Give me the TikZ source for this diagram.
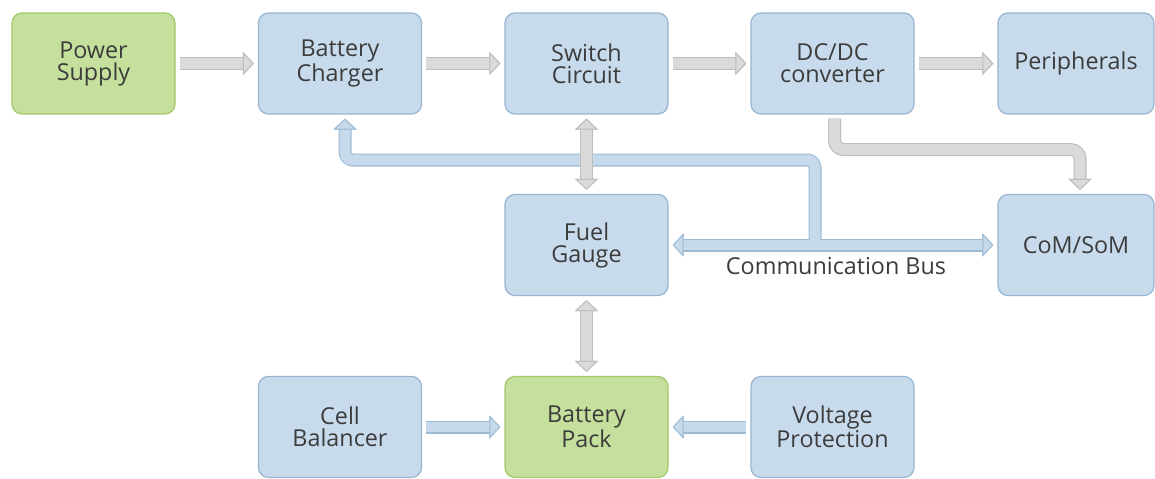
\documentclass[tikz,border=0pt]{standalone}
\usepackage{fontspec}
\setmainfont{Open Sans}
\usetikzlibrary{arrows.meta,calc}
\definecolor{boxblue}{HTML}{C8DBEC}
\definecolor{boxblueline}{HTML}{97B5D0}
\definecolor{boxgreen}{HTML}{C5DF9C}
\definecolor{boxgreenline}{HTML}{A2C96A}
\definecolor{gfill}{HTML}{DADADA}
\definecolor{gborder}{HTML}{BDBDBD}
\definecolor{bfill}{HTML}{C6DAEB}
\definecolor{bborder}{HTML}{9DBAD4}
\definecolor{txt}{HTML}{3C3C3C}
\newcommand\fatarrow[3]{%
  \draw[line width=13*0.75pt, draw=#1border, arrows={#2}, shorten <=3pt, shorten >=3pt] #3;
  \draw[line width=10.8*0.75pt, draw=#1fill, arrows={#2}, shorten <=3pt, shorten >=3pt] #3;}
\tikzset{
  gT/.tip={Triangle[width=23*0.75pt,length=11*0.75pt,line width=0.7pt,color=gborder,fill=gfill]},
  bT/.tip={Triangle[width=23*0.75pt,length=11*0.75pt,line width=0.7pt,color=bborder,fill=bfill]},
  blk/.style={rectangle, rounded corners=7.5pt, line width=0.9pt, minimum width=122.25pt,
    minimum height=75.75pt, inner sep=2pt, align=center, text=txt,
    font=\fontsize{17.5}{16.5}\selectfont},
  bluebox/.style={blk, fill=boxblue, draw=boxblueline},
  greenbox/.style={blk, fill=boxgreen, draw=boxgreenline},
}
\begin{document}
\begin{tikzpicture}[x=0.75pt,y=-0.75pt]
\useasboundingbox (0,0) rectangle (1155,478);
\fill[white] (0,0) rectangle (1155,478);
% boxes
\node[greenbox] (ps) at (93.5,63.5) {Power\\Supply};
\node[bluebox] (bc) at (340,63.5) {Battery\\Charger};
\node[bluebox] (sc) at (586.5,63.5) {Switch\\Circuit};
\node[bluebox] (dc) at (832.5,63.5) {DC/DC\\converter};
\node[bluebox, minimum width=117pt] (pe) at (1076,63.5) {Peripherals};
\node[bluebox] (fg) at (586.5,245) {Fuel\\Gauge};
\node[bluebox, minimum width=117pt] (cs) at (1076,245) {CoM/SoM};
\node[bluebox] (cb) at (340,427) {Cell\\Balancer};
\node[greenbox] (bp) at (586.5,427) {Battery\\Pack};
\node[bluebox] (vp) at (832.5,427) {Voltage\\Protection};
\node[text=txt, font=\fontsize{17.5}{17}\selectfont] (lbl) at (836,266) {Communication Bus};
% communication bus (blue)
\coordinate (j) at (815,245);
\coordinate (bcin) at ($(bc.south)+(5,0)$);
\draw[line width=13*0.75pt, draw=bborder, rounded corners=6pt, -bT, shorten >=3pt] (j) -- (815,160) -| (bcin);
\draw[line width=13*0.75pt, draw=bborder, bT-bT, shorten <=3pt, shorten >=3pt] (fg) -- (cs);
\draw[line width=10.8*0.75pt, draw=bfill, rounded corners=6pt, -bT, shorten >=3pt] (j) -- (815,160) -| (bcin);
\draw[line width=10.8*0.75pt, draw=bfill, bT-bT, shorten <=3pt, shorten >=3pt] (fg) -- (cs);
% power path (gray)
\fatarrow{g}{-gT}{(ps) -- (bc)}
\fatarrow{g}{-gT}{(bc) -- (sc)}
\fatarrow{g}{-gT}{(sc) -- (dc)}
\fatarrow{g}{-gT}{(dc) -- (pe)}
\fatarrow{g}{gT-gT}{(sc) -- (fg)}
\fatarrow{g}{gT-gT}{(fg) -- (bp)}
\draw[line width=13*0.75pt, draw=gborder, rounded corners=7pt, -gT, shorten <=3pt, shorten >=3pt]
  ($(dc.south)+(2,0)$) -- ++(0,35) -| ($(cs.north)+(4,0)$);
\draw[line width=10.8*0.75pt, draw=gfill, rounded corners=7pt, -gT, shorten <=3pt, shorten >=3pt]
  ($(dc.south)+(2,0)$) -- ++(0,35) -| ($(cs.north)+(4,0)$);
% bottom (blue)
\fatarrow{b}{-bT}{(cb) -- (bp)}
\fatarrow{b}{-bT}{(vp) -- (bp)}
\end{tikzpicture}
\end{document}
